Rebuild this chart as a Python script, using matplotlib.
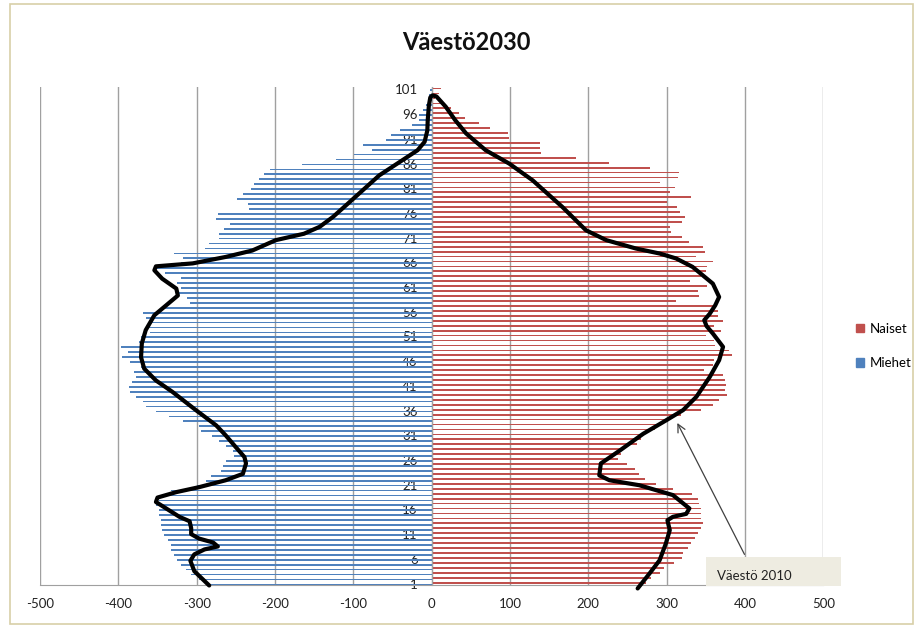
import matplotlib
matplotlib.use("Agg")
import matplotlib.pyplot as plt
from matplotlib.patches import Rectangle, Patch
import numpy as np

plt.rcParams['font.family'] = ['Lato', 'DejaVu Sans']

# ---------------- data ----------------
ages = list(range(1, 102))
tick_ages = list(range(1, 102, 5))
x_ticks = [-500, -400, -300, -200, -100, 0, 100, 200, 300, 400, 500]

# Miehet (men), 2030, ages 1..101 (negative = left side)
miehet = [
    -288, -297, -307, -314, -320, -325, -329, -333, -333, -337,   # 1-10
    -342, -344, -346, -346, -348, -348, -352, -348, -339, -333,   # 11-20
    -299, -288, -282, -269, -266, -262, -252, -254, -262, -271,   # 21-30
    -280, -294, -297, -318, -335, -352, -365, -369, -378, -385,   # 31-40
    -387, -382, -378, -380, -371, -385, -395, -388, -397, -373,   # 41-50
    -371, -360, -362, -358, -365, -369, -344, -308, -312, -325,   # 51-60
    -320, -325, -320, -340, -352, -320, -318, -329, -289, -284,   # 61-70
    -271, -271, -265, -258, -275, -273, -233, -235, -248, -241,   # 71-80
    -231, -227, -220, -214, -207, -165, -122, -99, -76, -88,      # 81-90
    -58, -52, -41, -25, -16, -16, -11, -7, -5, -3,                # 91-100
    -2,                                                           # 101
]

# Naiset (women), 2030, ages 1..101
naiset = [
    274, 280, 291, 297, 310, 319, 321, 327, 331, 336,   # 1-10
    340, 344, 346, 344, 344, 344, 341, 340, 333, 308,   # 11-20
    287, 272, 265, 260, 250, 238, 242, 244, 262, 267,   # 21-30
    270, 285, 290, 301, 318, 344, 359, 367, 377, 374,   # 31-40
    376, 374, 372, 348, 359, 361, 384, 380, 362, 361,   # 41-50
    350, 370, 361, 372, 365, 365, 359, 312, 341, 340,   # 51-60
    352, 330, 344, 350, 352, 359, 338, 349, 347, 328,   # 61-70
    319, 305, 304, 320, 323, 317, 313, 301, 331, 304,   # 71-80
    311, 292, 314, 316, 279, 227, 184, 139, 138, 138,   # 81-90
    99, 97, 74, 60, 42, 35, 25, 14, 4, 10,              # 91-100
    12,                                                 # 101
]

# Vaesto 2010 outline (hand-drawn curve): men side, bottom -> top
curve_m_age = [0.6, 3.5, 5.6, 6.9, 7.9, 8.5, 9.3, 10.1, 11.0, 12.2, 13.6, 14.5, 16.2,
               17.5, 18.4, 19.5, 20.5, 21.9, 23.2, 25.3, 26.6, 28.6, 31.0, 33.0, 36.1,
               39.8, 42.1, 44.5, 46.8, 49.6, 52.3, 55.3, 57.3, 59.3, 60.7, 62.7, 64.4,
               65.2, 65.8, 67.1, 68.4, 70.5, 71.8, 73.2, 75.2, 77.6, 80.6, 83.6, 86.3,
               88.7, 90.4, 92.7, 94.8, 97.8, 99.4, 99.8]
curve_m_val = [-284, -303, -308, -303, -290, -273, -279, -297, -307, -307, -309, -322, -339,
               -352, -350, -326, -297, -263, -241, -237, -239, -250, -263, -275, -301,
               -331, -352, -367, -371, -370, -365, -354, -339, -324, -326, -344, -354,
               -352, -305, -263, -229, -199, -163, -143, -126, -109, -88, -67, -41,
               -18, -9, -5.5, -5, -3.5, -1.7, 1]
# women side, top -> bottom
curve_n_age = [99.6, 97.5, 94.8, 92.1, 88.7, 86.0, 82.6, 77.2, 72.5, 70.5, 68.8, 67.8,
               66.8, 65.1, 61.7, 59.0, 57.3, 55.6, 54.3, 53.1, 51.6, 48.9, 46.2, 42.8,
               38.8, 36.1, 34.0, 31.3, 27.9, 25.3, 22.9, 21.9, 20.9, 18.9, 16.2, 15.1,
               14.5, 13.8, 11.8, 9.1, 5.7, 3.0, 0.0]
curve_n_val = [6, 18, 30, 44, 69, 99, 129, 167, 197, 223, 261, 291,
               312, 333, 359, 367, 362, 355, 348, 351, 359, 372, 367, 355,
               338, 321, 299, 270, 240, 216, 214, 227, 265, 308, 329, 325,
               308, 301, 304, 299, 291, 278, 263]

# ---------------- figure ----------------
fig = plt.figure(figsize=(9.23, 6.26), dpi=100)
ax = fig.add_axes([40 / 923, 1 - 585 / 626, (823.3 - 40) / 923, (585 - 87) / 626])

blue = '#4F81BD'
red = '#C0504D'
h = 0.36
ages_arr = np.array(ages)
ax.barh(ages_arr - 0.18, miehet, height=h, color=blue, linewidth=0, label='Miehet', zorder=2)
ax.barh(ages_arr + 0.18, naiset, height=h, color=red, linewidth=0, label='Naiset', zorder=2)

# 2010 curve
ax.plot(curve_m_val + curve_n_val, curve_m_age + curve_n_age, color='black', lw=3.0,
        solid_joinstyle='round', solid_capstyle='round', zorder=5, clip_on=False)

ax.set_xlim(-500, 500)
ax.set_ylim(0.7, 101.5)
ax.set_xticks(x_ticks)
ax.set_xticklabels([str(v) for v in x_ticks])
ax.set_yticks(tick_ages)
ax.set_yticklabels([str(a) for a in tick_ages])

ax.xaxis.grid(True, color='#A0A0A0', lw=1.0, zorder=0)
ax.set_axisbelow(True)

for s in ['top', 'right']:
    ax.spines[s].set_visible(False)
ax.spines['left'].set_position(('data', 0))
ax.spines['left'].set_color('#A0A0A0')
ax.spines['bottom'].set_color('#A0A0A0')
ax.tick_params(axis='y', length=0, pad=10, labelsize=9.5, colors='#222222')
ax.tick_params(axis='x', length=0, pad=9, labelsize=9.5, colors='#222222')
for lbl in ax.get_yticklabels():
    lbl.set_zorder(6)

fig.text(466 / 923, 1 - 42 / 626, 'Väestö2030', fontsize=17, fontweight='bold',
         ha='center', va='center', color='#111111')

# legend
handles = [Patch(color=red, label='Naiset'), Patch(color=blue, label='Miehet')]
fig.legend(handles=handles, loc='upper left', bbox_to_anchor=(849 / 923, 1 - 316 / 626),
           frameon=False, fontsize=9.5, handlelength=0.6, handleheight=0.6,
           handletextpad=0.5, labelspacing=1.7, borderpad=0)

# annotation box "Vaesto 2010"
box = Rectangle((350, 0.55), 173, 5.85, facecolor='#EEECE1', edgecolor='none',
                clip_on=False, zorder=4)
ax.add_patch(box)
ax.text(364, 2.6, 'Väestö 2010', fontsize=9.5, va='center', ha='left', zorder=6,
        clip_on=False, color='#222222')
ax.annotate('', xy=(312, 34), xytext=(401, 6.4),
            arrowprops=dict(arrowstyle='->', color='#404040', lw=0.9,
                            mutation_scale=14), zorder=6, annotation_clip=False)

# chart-area border
fig.patches.append(Rectangle((10 / 923, 2 / 626), 903 / 923, 620 / 626,
                             transform=fig.transFigure, fill=False,
                             edgecolor='#D8CFA8', lw=1.2))

fig.savefig('out.png', dpi=100)
